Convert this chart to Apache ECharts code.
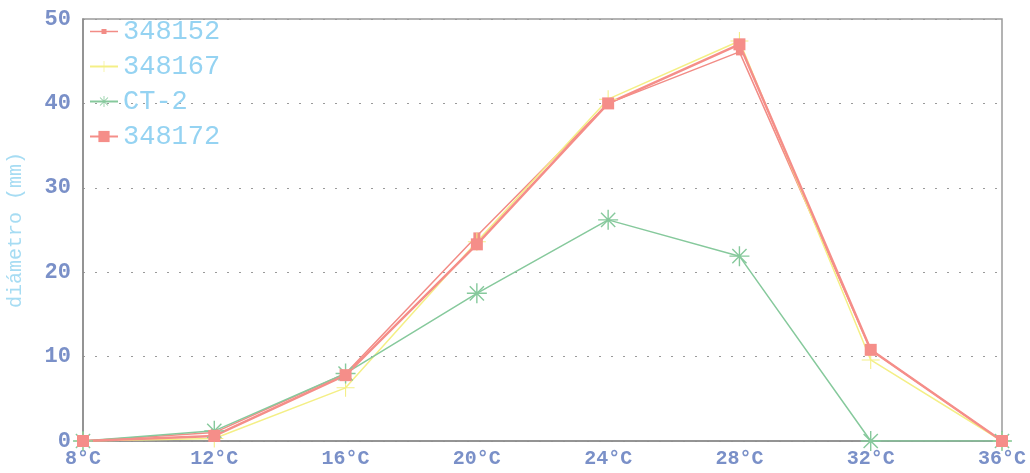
<!DOCTYPE html>
<html>
<head>
<meta charset="utf-8">
<script src="https://cdn.jsdelivr.net/npm/echarts@6/dist/echarts.min.js"></script>
<style>
  html, body { margin: 0; padding: 0; background: #fff; }
  #chart { width: 1030px; height: 473px; }
</style>
</head>
<body>
<div id="chart"></div>
<script>
// temperatures on the x axis
const categories = ['8°C', '12°C', '16°C', '20°C', '24°C', '28°C', '32°C', '36°C']

// diameters (mm)
const s348152 = [0, 1.0, 8.0, 24.3, 40.0, 46.1, 10.8, 0]
const s348167 = [0, 0.3, 6.3, 23.6, 40.5, 47.4, 9.6, 0]
const sCT2 = [0, 1.2, 8.0, 17.5, 26.2, 21.9, 0, 0]
const s348172 = [0, 0.6, 7.8, 23.3, 40.0, 47.0, 10.8, 0]

const plusPath = 'path://M-0.6,-10L0.6,-10L0.6,-0.6L10,-0.6L10,0.6L0.6,0.6L0.6,10L-0.6,10L-0.6,0.6L-10,0.6L-10,-0.6L-0.6,-0.6Z'
const starPath = 'path://M-0.7,-10L0.7,-10L0.7,10L-0.7,10Z' +
  'M-10,-0.7L10,-0.7L10,0.7L-10,0.7Z' +
  'M-7.6,-6.6L-6.6,-7.6L7.6,6.6L6.6,7.6Z' +
  'M6.6,-7.6L7.6,-6.6L-6.6,7.6L-7.6,6.6Z'

// legend icon: line with a small square (tiny corner points keep the box 28x14)
const smallSquareIcon = 'path://M0,0L0.01,0L0,0.01Z M28,14L27.99,14L28,13.99Z' +
  'M0,6.3L28,6.3L28,7.7L0,7.7Z M11.5,4.5L16.5,4.5L16.5,9.5L11.5,9.5Z'

const font = 'Liberation Mono'

let myChart = echarts.init(document.getElementById('chart'))

let option = {
  animation: false,
  grid: {
    left: 83,
    right: 28,
    top: 19,
    bottom: 32,
    outerBoundsMode: 'none',
    containLabel: false,
    show: true,
    borderColor: '#9a9a9a',
    borderWidth: 1.5
  },
  legend: {
    orient: 'vertical',
    left: 84,
    top: 13,
    itemWidth: 28,
    itemHeight: 14,
    itemGap: 8,
    textStyle: { color: '#95d3f2', fontFamily: font, fontSize: 27 },
    data: [{ name: '348152', icon: smallSquareIcon }, '348167', 'CT-2', '348172']
  },
  xAxis: {
    type: 'category',
    boundaryGap: false,
    data: categories,
    axisLine: { lineStyle: { color: '#8a8a8a', width: 1.5 } },
    axisTick: { show: false },
    axisLabel: { color: '#7a90c8', fontFamily: font, fontSize: 20, fontWeight: 'bold', margin: 8 },
    splitLine: { show: false }
  },
  yAxis: {
    type: 'value',
    min: 0,
    max: 50,
    interval: 10,
    name: 'diámetro (mm)',
    nameLocation: 'middle',
    nameGap: 57,
    nameTextStyle: { color: '#a6dcf3', fontFamily: font, fontSize: 20 },
    axisLine: { show: true, lineStyle: { color: '#8a8a8a', width: 1.5 } },
    axisTick: { show: false },
    axisLabel: { color: '#7a90c8', fontFamily: font, fontSize: 22, fontWeight: 'bold', margin: 12 },
    splitLine: { lineStyle: { color: '#9a9a9a', type: [2, 10], width: 1 } }
  },
  series: [
    {
      name: '348152',
      type: 'line',
      data: s348152,
      symbol: 'rect',
      symbolSize: 7,
      color: '#f28c86',
      lineStyle: { width: 1.5 }
    },
    {
      name: '348167',
      type: 'line',
      data: s348167,
      symbol: plusPath,
      symbolSize: 18,
      color: '#f4ef86',
      lineStyle: { width: 1.5 }
    },
    {
      name: 'CT-2',
      type: 'line',
      data: sCT2,
      symbol: starPath,
      symbolSize: 20,
      color: '#86c99c',
      lineStyle: { width: 1.5 }
    },
    {
      name: '348172',
      type: 'line',
      data: s348172,
      symbol: 'rect',
      symbolSize: 12,
      color: '#f58e89',
      lineStyle: { width: 2.5 }
    }
  ]
}

myChart.setOption(option)
</script>
</body>
</html>
